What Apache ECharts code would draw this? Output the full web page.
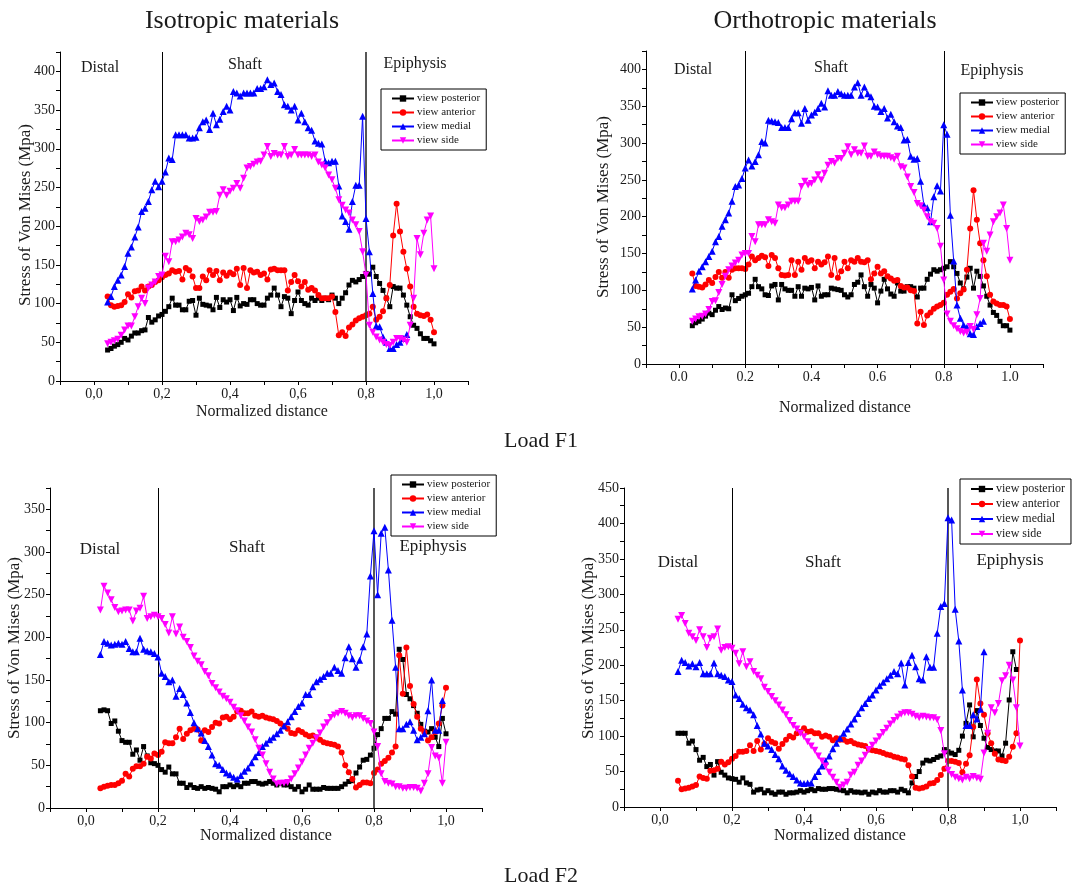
<!DOCTYPE html>
<html>
<head>
<meta charset="utf-8">
<script src="https://cdn.jsdelivr.net/npm/echarts@6/dist/echarts.min.js"></script>
<style>
  html, body { margin: 0; padding: 0; background: #ffffff; }
  #chart { width: 1073px; height: 888px; }
</style>
</head>
<body>
<div id="chart"></div>
<script>
// Normalized distance along the bone (sampling positions)
const distanceA = [0.04,0.05,0.06,0.07,0.08,0.09,0.10,0.11,0.12,0.13,0.14,0.15,0.16,0.17,0.18,0.19,0.20,0.21,0.22,0.23,0.24,0.25,0.26,0.27,0.28,0.29,0.30,0.31,0.32,0.33,0.34,0.35,0.36,0.37,0.38,0.39,0.40,0.41,0.42,0.43,0.44,0.45,0.46,0.47,0.48,0.49,0.50,0.51,0.52,0.53,0.54,0.55,0.56,0.57,0.58,0.59,0.60,0.61,0.62,0.63,0.64,0.65,0.66,0.67,0.68,0.69,0.70,0.71,0.72,0.73,0.74,0.75,0.76,0.77,0.78,0.79,0.80,0.81,0.82,0.83,0.84,0.85,0.86,0.87,0.88,0.89,0.90,0.91,0.92,0.93,0.94,0.95,0.96,0.97,0.98,0.99,1.00];
const distanceB = [0.05,0.06,0.07,0.08,0.09,0.10,0.11,0.12,0.13,0.14,0.15,0.16,0.17,0.18,0.19,0.20,0.21,0.22,0.23,0.24,0.25,0.26,0.27,0.28,0.29,0.30,0.31,0.32,0.33,0.34,0.35,0.36,0.37,0.38,0.39,0.40,0.41,0.42,0.43,0.44,0.45,0.46,0.47,0.48,0.49,0.50,0.51,0.52,0.53,0.54,0.55,0.56,0.57,0.58,0.59,0.60,0.61,0.62,0.63,0.64,0.65,0.66,0.67,0.68,0.69,0.70,0.71,0.72,0.73,0.74,0.75,0.76,0.77,0.78,0.79,0.80,0.81,0.82,0.83,0.84,0.85,0.86,0.87,0.88,0.89,0.90,0.91,0.92,0.93,0.94,0.95,0.96,0.97,0.98,0.99,1.00];

const seriesNames = ['view posterior', 'view anterior', 'view medial', 'view side'];

// Load F1, isotropic materials (Mpa)
const isoF1Posterior = [40,42,45,47,50,55,53,58,62,62, 65,66,82,76,79,84,86,90,96,107, 98,98,92,92,103,104,85,107,99,98, 97,92,108,95,105,102,105,91,108,97, 100,99,105,105,100,98, 98,107,111,120,111,96,109,107,87,104, 115,104,100,98,107,104,107,104,107,105, 111,107,100,107,114,124,130,128,131,135, 139,138,147,135,126,117,107,96,122,120, 120,111,98,83,72,68,61,55,55,52,48];
const isoF1Anterior = [109,98,96,97,98,102,112,108,116,117, 122,117,122,124,128,130,134,137,139,143, 141,142,131,146,143,135,120,120,135,130, 143,137,142,130,140,136,140,138,145,124, 146,120,143,140,141,137, 139,131,144,145,143,143,143,117,128,137, 129,122,128,118,120,117,111,107,107,107, 109,89,59,63,58,69,73,78,81,83, 85,87,96,79,83,90,107,124,188,229, 193,167,145,122,96,87,85,84,86,79,63];
const isoF1Medial = [102,109,122,130,137,148,165,173,186,199, 219,223,232,247,258,251,258,270,288,286, 318,318,318,318,314,314,315,327,335,337, 325,346,331,338,348,355,350,374,372,368, 372,372,372,372,378,378,380,389, 383,385,374,370,357,355,350,355,337,346, 335,327,324,310,307,306,284,282,284,284, 252,213,206,196,232,253,253,342,210,167, 113,71,70,57,50,42,42,47,50,55,60];
const isoF1Side = [48,50,52,54,59,66,71,71,83,96, 107,100,120,124,128,135,137,161,154,180, 180,182,186,191,189,184,210,206,208,212, 218,218,219,240,247,240,245,249,255,249, 262,275,277,280,283,284,292,303,290,294, 292,292,303,290,292,299,292,292,292,292, 290,292,283,279,275,266,260,249,234,227, 221,217,208,202,193,167,137,72,63,57, 53,50,47,46,50,55,55,53,50,72, 107,184,163,191,208,213,145];

// Load F1, orthotropic materials (Mpa)
const orthoF1Posterior = [52,56,58,61,65,69,67,73,78,74, 76,75,94,86,89,92,94,96,105,115, 105,102,94,93,106,108,87,108,102,100, 100,92,105,92,103,102,104,87,106,92, 94,94,103,102,101, 100,94,91,94,108,111,121,105,92,108,103, 83,99,115,102,95,92,110,99,99,105, 105,103,91,103,103,115,122,128,126,128, 130,132,139,132,123,110,102,118,130,103, 126,119,106,92,80,70,66,58,52,52,46];
const orthoF1Anterior = [123,106,105,104,108,114,110,118,125,117, 125,117,128,130,130,130,129,135,146,141, 144,147,145,133,148,144,130,121,120,121, 141,121,139,128,144,139,141,130,139,135, 138,146,121,144,117,126, 139,130,141,139,144,139,138,141,115,123, 132,123,126,119,116,113,114,106,104,104, 100,99,55,71,53,66,70,75,78,80, 83,94,98,102,89,96,101,128,184,236, 196,164,141,119,94,85,82,80,80,78,61];
const orthoF1Medial = [102,114,126,132,139,146,153,166,173,187, 196,205,221,241,243,252,266,277,269,275, 284,302,300,331,330,329,328,321,321,321, 333,341,341,327,347,331,338,342,347,354, 349,371,365,365,370, 367,365,365,365,376,382,365,376,367,363, 350,349,343,347,334,339,329,323,321,304, 305,282,278,279,248,216,212,193,227,242, 235,325,312,202,140,80,62,53,50,41, 40,51,55,58];
const orthoF1Side = [58,61,64,65,68,74,85,86,97,108, 119,128,133,137,141,148,150,150,173,166, 189,189,189,196,193,191,216,212,212,216, 221,221,221,241,248,243,245,250,257,250, 259,270,275, 273,279,279,286,295,284,291,286,286,296, 282,282,288,284,282,282,282,280,278,282, 268,266,254,241,233,218,215,209,200,193, 191,184,160,114,68,58,52,48,44,42, 43,51,47,67,89,164,153,175,193,200, 205,216,184,141];

// Load F2, isotropic materials (Mpa)
const isoF2Posterior = [114,115,114,99,102,90,79,77,77,63, 68,56,72,61,53,52,50,45,42,48, 40,40,29,29,24,27,24,23,25,23, 24,23,22,19,25,25,27,25,27,25, 29,29,31,31,29,28,29, 31,29,27,29,27,27,25,22,25,19, 22,27,22,22,22,24,23,23,23,23, 25,28,31,32,41,48,56,57,62,70, 86,93,105,105,113,110,186,174,133,128, 120,111,98,90,89,93,83,72,105,87];
const isoF2Anterior = [23,25,26,27,27,29,32,40,37,46, 49,49,52,60,58,64,62,66,77,76, 76,83,93,81,87,91,93,92,79,91, 89,95,100,99,106,107,104,107,113,114, 111,111,113,108,107,108, 106,105,104,102,99,96,93,88,87,91, 89,86,84,85,83,80,77,76,75,74, 72,65,50,42,34,24,27,30,30,29, 41,45,52,55,59,65,72,179,134,188, 143,122,107,93,89,79,83,89,99,120,141];
const isoF2Medial = [180,195,193,191,192,193,192,195,187,183, 183,199,186,184,183,181,177,158,154,148, 150,131,140,133,123,112,100,93,88,79, 72,62,52,50,45,41,39,36,34,38, 43,47,53,60,65, 72,76,80,83,87,91,96,101,107,113, 119,123,133,133,142,148,151,154,158,158, 165,161,158,176,189,175,165,173,189,204, 272,325,250,322,329,279,220,165,93,93, 98,101,91,80,83,87,114,150,91,91,126];
const isoF2Side = [232,260,252,244,235,230,231,232,232,219, 231,234,248,222,224,226,224,222,215,205, 224,204,212,200,195,188,178,172,168,160, 155,146,141,136,131,128,124,118,114,108, 102,95,89,80,70,62,52,42,34,28, 29,29,30,34,40,47,54,62,70,76, 82,88,95,100,106,109,111,113,111,108, 106,108,108,105,102,99,89,72,40,31, 29,28,25,25,23,23,24,24,23,20, 29,40,71,61,59,29,77];

// Load F2, orthotropic materials (Mpa)
const orthoF2Posterior = [104,104,104,90,93,81,66,70,57,60, 45,64,49,45,41,40,39,35,41,34, 32,21,24,25,20,23,20,18,21,21, 18,20,20,21,23,21,23,25,23,26, 25,25,26,26,25,24, 23,20,23,21,21,20,21,18,21,20, 23,21,21,23,23,21,25,23,20,34, 43,50,62,66,65,67,70,72,81,78, 76,74,80,100,118,144,99,136,115,97, 84,81,79,79,72,90,151,219,194];
const orthoF2Anterior = [37,25,26,27,29,31,43,41,40,51, 52,54,64,60,63,68,72,78,78,79, 87,79,93,81,89,97,92,90,82,89, 95,100,98,104,106,111,106,107,104,104, 99,101,99,94, 97,95,95,92,93,90,88,87,86,81, 80,79,78,76,74,73,71,70,68,67, 59,43,27,26,27,29,33,34,38,45, 54,65,65,64,62,49,61,73,113,180, 146,130,104,90,75,67,66,65,71,85,104,235];
const orthoF2Medial = [191,207,204,199,202,198,204,188,188,188, 203,188,186,184,179,177, 158,153,145,140,137,130,115,103,90,86, 81,74,68,58,52,47,43,38,34,33, 34,34,43,50,58,65,72,82,90,97, 104,110,117,124,132,140,146,153,158,165, 171,176,181,186,191,188,203,172,204,214, 198,181,179,212,197,197,245,283,287,408, 405,279,234,165,115,115,130,124,138,219];
const orthoF2Side = [265,270,259,245,240,235,250,240,225,238, 240,251,221,225,226,224,217,202,219,198, 205,191,186,181,169,163,156,150,144,137, 130,122,115,110,104,99,92,86,80,72, 65,58,49,42,35,28,31,35,45,49, 59,65,73,81,87,93,99,105,111,117, 122,127,131,133,133,131,128,126,128,127, 126,126,123,108,75,52,46,42,40,38, 42,40,43,41,39,76,104,140,133,146, 178,185,200,179,140,86];

// Region boundaries along the bone
const regionBounds = [0.2, 0.8];

const FONT = '"Liberation Serif", "Times New Roman", serif';
const INK = '#1a1a1a';

// Plot panels: grid rectangle, y extent, decimal separator, legend placement
const panels = [
  { grid: { left: 60,  top: 52,  width: 408, height: 329 }, yMax: 425, sep: ',', dist: distanceA,
    values: [isoF1Posterior, isoF1Anterior, isoF1Medial, isoF1Side], heavyRight: true,
    legend: { left: 381, top: 89, font: 11 } },
  { grid: { left: 646, top: 51,  width: 397, height: 313 }, yMax: 425, sep: '.', dist: distanceA,
    values: [orthoF1Posterior, orthoF1Anterior, orthoF1Medial, orthoF1Side], heavyRight: false,
    legend: { left: 960, top: 93, font: 11 } },
  { grid: { left: 50,  top: 488, width: 432, height: 320 }, yMax: 375, sep: ',', dist: distanceA,
    values: [isoF2Posterior, isoF2Anterior, isoF2Medial, isoF2Side], heavyRight: true,
    legend: { left: 391, top: 475, font: 11 } },
  { grid: { left: 624, top: 488, width: 432, height: 319 }, yMax: 450, sep: ',', dist: distanceB,
    values: [orthoF2Posterior, orthoF2Anterior, orthoF2Medial, orthoF2Side], heavyRight: true,
    legend: { left: 960, top: 479, font: 12 } }
];

const markStyles = [
  { color: '#000000', symbol: 'rect',     size: 5, rotate: 0 },
  { color: '#ff0000', symbol: 'circle',   size: 6, rotate: 0 },
  { color: '#0000ff', symbol: 'triangle', size: 7, rotate: 0 },
  { color: '#ff00ff', symbol: 'triangle', size: 7, rotate: 180 }
];

function xLabel(sep) {
  return function (v) {
    const k = Math.round(v * 10);
    if (k < 0 || k > 10 || k % 2 !== 0) return '';
    return (k / 10).toFixed(1).replace('.', sep);
  };
}
function yLabel(v) {
  return (Math.round(v) % 50 === 0) ? String(Math.round(v)) : '';
}

const grids = [], xAxes = [], yAxes = [], series = [], legends = [];

panels.forEach(function (p, i) {
  grids.push(Object.assign({}, p.grid));
  xAxes.push({
    type: 'value', gridIndex: i, min: -0.1, max: 1.1, interval: 0.1,
    axisLine: { show: true, onZero: false, lineStyle: { color: '#000', width: 1 } },
    axisTick: { show: true, inside: false, length: 4, lineStyle: { color: '#000' } },
    axisLabel: { formatter: xLabel(p.sep), fontFamily: FONT, fontSize: 14, color: INK, margin: 6 },
    splitLine: { show: false }
  });
  yAxes.push({
    type: 'value', gridIndex: i, min: 0, max: p.yMax, interval: 25,
    axisLine: { show: true, onZero: false, lineStyle: { color: '#000', width: 1 } },
    axisTick: { show: true, inside: false, length: 4, lineStyle: { color: '#000' } },
    axisLabel: { formatter: yLabel, fontFamily: FONT, fontSize: 14, color: INK, margin: 5 },
    splitLine: { show: false }
  });

  p.values.forEach(function (vals, s) {
    const st = markStyles[s];
    const item = {
      type: 'line', name: seriesNames[s], xAxisIndex: i, yAxisIndex: i,
      data: vals.map(function (v, k) { return [p.dist[k], v]; }),
      symbol: st.symbol, symbolSize: st.size, symbolRotate: st.rotate,
      showAllSymbol: true,
      lineStyle: { color: st.color, width: 1 },
      itemStyle: { color: st.color, borderWidth: 0 },
      emphasis: { disabled: true },
      animation: false, z: 3 + s
    };
    if (s === 0) {
      item.markLine = {
        silent: true, symbol: 'none', animation: false,
        label: { show: false },
        lineStyle: { color: '#000', width: 1, type: 'solid' },
        data: regionBounds.map(function (b, j) {
          const heavy = (j === 1 && p.heavyRight);
          return [
            { coord: [b, 0], lineStyle: heavy ? { color: '#444', width: 1.8, type: 'solid' } : { color: '#000', width: 1, type: 'solid' } },
            { coord: [b, p.yMax] }
          ];
        })
      };
    }
    series.push(item);
  });

  legends.push({
    orient: 'vertical', left: p.legend.left, top: p.legend.top,
    itemWidth: 22, itemHeight: 8, itemGap: 3,
    padding: [4, 6, 4, 10],
    borderColor: '#000', borderWidth: 1, backgroundColor: '#fff',
    selectedMode: false,
    textStyle: { fontFamily: FONT, fontSize: p.legend.font, color: INK, padding: [0, 0, 0, -2] },
    data: seriesNames
  });
});

// Titles, region names and axis names
function txt(x, y, text, size, rot) {
  return {
    type: 'text', x: x, y: y, rotation: rot || 0, z: 50,
    style: { text: text, font: size + 'px ' + FONT, fill: INK, align: 'center', verticalAlign: 'middle' }
  };
}
const graphics = [
  txt(242, 21, 'Isotropic materials', 26),
  txt(825, 21, 'Orthotropic materials', 26),
  txt(541, 441, 'Load F1', 22),
  txt(541, 876, 'Load F2', 22),

  txt(100, 68, 'Distal', 16), txt(245, 65, 'Shaft', 16), txt(415, 64, 'Epiphysis', 16),
  txt(693, 70, 'Distal', 16), txt(831, 68, 'Shaft', 16), txt(992, 71, 'Epiphysis', 16),
  txt(100, 550, 'Distal', 17), txt(247, 548, 'Shaft', 17), txt(433, 547, 'Epiphysis', 17),
  txt(678, 563, 'Distal', 17), txt(823, 563, 'Shaft', 17), txt(1010, 561, 'Epiphysis', 17),

  txt(26, 215, 'Stress of Von Mises (Mpa)', 17, Math.PI / 2),
  txt(604, 207, 'Stress of Von Mises (Mpa)', 17, Math.PI / 2),
  txt(15, 648, 'Stress of Von Mises (Mpa)', 17, Math.PI / 2),
  txt(589, 648, 'Stress of Von Mises (Mpa)', 17, Math.PI / 2),

  txt(262, 412, 'Normalized distance', 16),
  txt(845, 408, 'Normalized distance', 16),
  txt(266, 836, 'Normalized distance', 16),
  txt(840, 836, 'Normalized distance', 16)
];

const chart = echarts.init(document.getElementById('chart'), null, { renderer: 'canvas' });
chart.setOption({
  backgroundColor: '#ffffff',
  animation: false,
  grid: grids,
  xAxis: xAxes,
  yAxis: yAxes,
  legend: legends,
  series: series,
  graphic: graphics
});
</script>
</body>
</html>
